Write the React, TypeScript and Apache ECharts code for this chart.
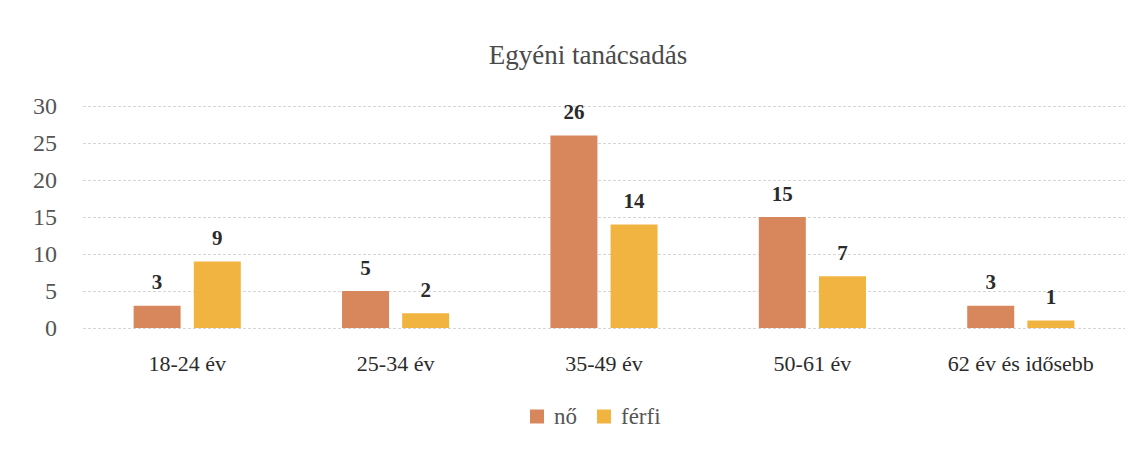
import React, { useEffect, useRef } from "react";
import * as echarts from "echarts";

const categories = ["18-24 év", "25-34 év", "35-49 év", "50-61 év", "62 év és idősebb"];
const noValues = [3, 5, 26, 15, 3];
const ferfiValues = [9, 2, 14, 7, 1];
const seriesNames = ["nő", "férfi"];
const titleText = "Egyéni tanácsadás";

const FONT = "'Liberation Serif', 'DejaVu Serif', serif";

export default function App() {
  const ref = useRef<HTMLDivElement>(null);
  useEffect(() => {
    if (!ref.current) return;
    const chart = echarts.init(ref.current, null, { renderer: "svg" });
    const labelStyle = {
      show: true,
      position: "top" as const,
      distance: 13,
      color: "#2b2b2b",
      fontFamily: FONT,
      fontSize: 21,
      fontWeight: "bold" as const,
    };
    chart.setOption({
      animation: false,
      backgroundColor: "#ffffff",
      textStyle: { fontFamily: FONT },
      title: {
        text: titleText,
        left: 580,
        textAlign: "center",
        top: 33,
        padding: 0,
        textStyle: { fontFamily: FONT, fontSize: 27, fontWeight: "normal", color: "#4a4a4a" },
      },
      legend: {
        data: seriesNames,
        top: 397,
        left: 522,
        padding: 0,
        itemWidth: 14,
        itemHeight: 14,
        itemGap: 20,
        icon: "rect",
        textStyle: { fontFamily: FONT, fontSize: 23, color: "#555", padding: [0, 0, 0, 5] },
      },
      grid: { left: 75, right: 13, top: 98, bottom: 113 },
      xAxis: {
        type: "category",
        data: categories,
        axisLine: { show: false },
        axisTick: { show: false },
        axisLabel: { fontFamily: FONT, fontSize: 22, color: "#2b2b2b", margin: 24 },
      },
      yAxis: {
        type: "value",
        min: 0,
        max: 30,
        interval: 5,
        axisLine: { show: false },
        axisTick: { show: false },
        axisLabel: { fontFamily: FONT, fontSize: 24, color: "#555", margin: 26 },
        splitLine: { lineStyle: { color: "#d6d6d6", type: [3, 2], width: 1 } },
      },
      series: [
        {
          name: seriesNames[0],
          type: "bar",
          data: noValues,
          barWidth: 47,
          barGap: "28%",
          itemStyle: { color: "#d8875c" },
          label: labelStyle,
        },
        {
          name: seriesNames[1],
          type: "bar",
          data: ferfiValues,
          barWidth: 47,
          barGap: "28%",
          itemStyle: { color: "#f1b440" },
          label: labelStyle,
        },
      ],
    });
    return () => chart.dispose();
  }, []);
  return <div ref={ref} style={{ width: 1130, height: 433 }} />;
}
